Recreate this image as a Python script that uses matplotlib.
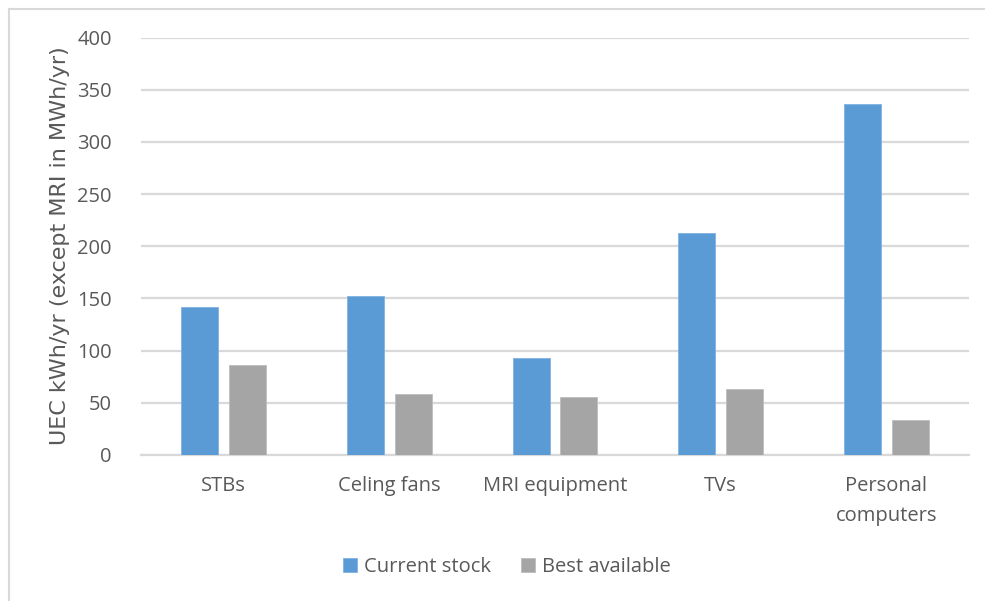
import matplotlib.pyplot as plt
import numpy as np
from matplotlib.lines import Line2D

# data
categories = ['STBs', 'Celing fans', 'MRI equipment', 'TVs', 'Personal\ncomputers']
current_stock = [142, 152, 93, 213, 336]
best_available = [86, 58, 56, 63, 34]

txt_color = '#595959'
grid_color = '#d9d9d9'

fig = plt.figure(figsize=(9.85, 6.01), dpi=100, facecolor='white')
ax = fig.add_axes([141/985, 1-455/601, (969-141)/985, (455-37.5)/601])

x = np.arange(len(categories))
w = 0.223
off = 0.1445
ax.bar(x - off, current_stock, w, color='#5B9BD5', edgecolor='#7fb2e0', linewidth=0.6,
       label='Current stock', zorder=3)
ax.bar(x + off, best_available, w, color='#A5A5A5', edgecolor='#bdbdbd', linewidth=0.6,
       label='Best available', zorder=3)

ax.set_xlim(-0.5, len(categories) - 0.5)
ax.set_ylim(0, 400)
ax.set_yticks(range(0, 401, 50))
ax.yaxis.grid(True, color=grid_color, linewidth=1.6, zorder=0)
ax.set_axisbelow(True)
for s in ['top', 'right', 'left']:
    ax.spines[s].set_visible(False)
ax.spines['bottom'].set_color(grid_color)
ax.spines['bottom'].set_linewidth(1.6)
ax.tick_params(axis='both', length=0, colors=txt_color, labelsize=14.5)
ax.tick_params(axis='y', pad=21)
ax.tick_params(axis='x', pad=15)
ax.set_xticks(x)
ax.set_xticklabels(categories, family='Open Sans', linespacing=1.65)
for lab in ax.get_yticklabels():
    lab.set_family('Open Sans')

ax.set_ylabel('UEC kWh/yr (except MRI in MWh/yr)', fontsize=16, color=txt_color,
              family='DejaVu Sans')
ax.yaxis.set_label_coords(-0.086, 0.502)

fig.legend(loc='center', bbox_to_anchor=(507/985, 1-567/601), ncol=2, frameon=False,
           prop={'family': 'Open Sans', 'size': 14.5},
           handlelength=0.7, handleheight=0.7, handletextpad=0.35, columnspacing=1.5,
           labelcolor=txt_color)

# outer chart border (right and bottom edges fall outside the image)
fig.add_artist(Line2D([8.5/985, 1.0], [1-8.5/601, 1-8.5/601], color=grid_color, lw=1.5))
fig.add_artist(Line2D([8.5/985, 8.5/985], [0.0, 1-8.5/601], color=grid_color, lw=1.5))

fig.savefig('out.png', dpi=100)
